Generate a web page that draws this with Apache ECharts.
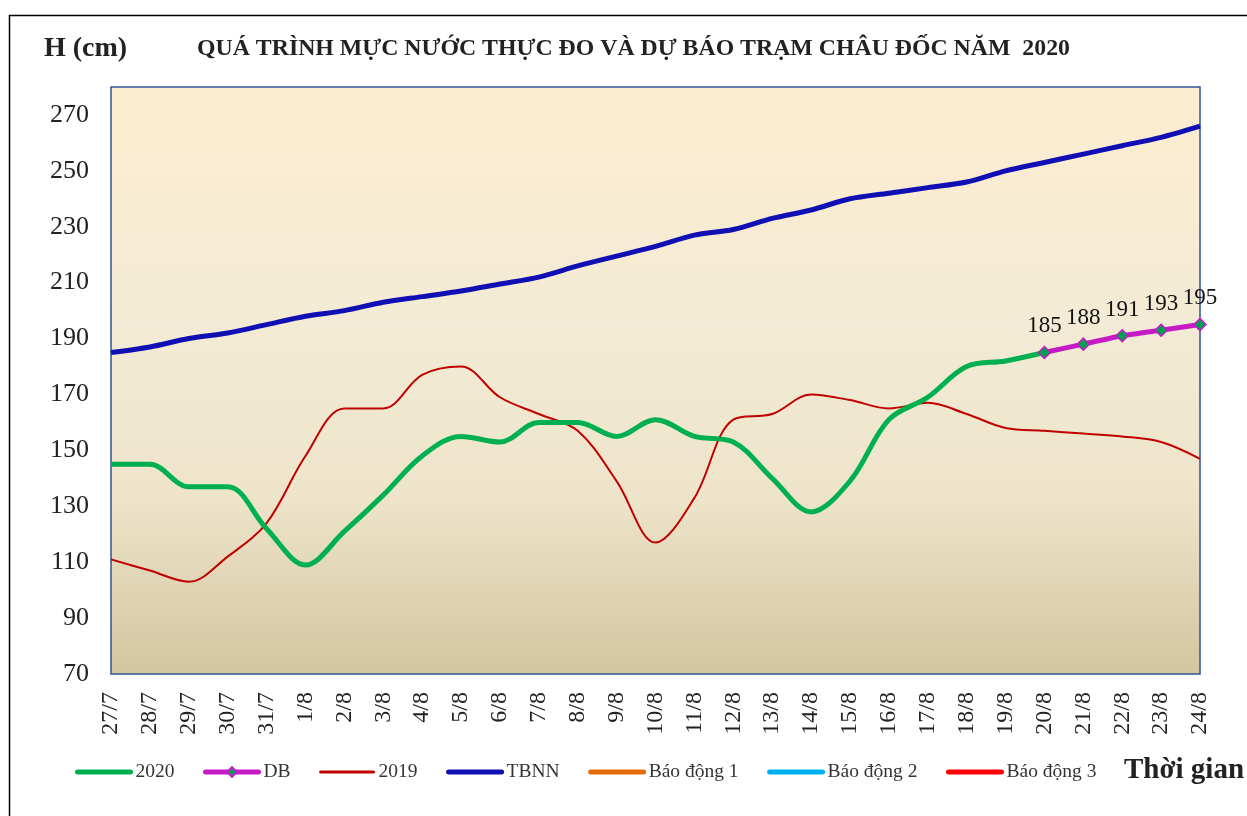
<!DOCTYPE html>
<html>
<head>
<meta charset="utf-8">
<script src="https://cdn.jsdelivr.net/npm/echarts@6/dist/echarts.min.js"></script>
<style>
    html, body { margin: 0; padding: 0; background: #fff; }
    #container { width: 1247px; height: 816px; }
</style>
</head>
<body>
<div id="container"></div>
<script>
// ngày quan trắc
var days = ['27/7', '28/7', '29/7', '30/7', '31/7', '1/8', '2/8', '3/8', '4/8', '5/8',
    '6/8', '7/8', '8/8', '9/8', '10/8', '11/8', '12/8', '13/8', '14/8', '15/8',
    '16/8', '17/8', '18/8', '19/8', '20/8', '21/8', '22/8', '23/8', '24/8'];

// mực nước thực đo 2020 (đến 20/8)
var h2020 = [145, 145, 137, 137, 122, 109, 121, 134, 148, 155,
    153, 160, 160, 155, 161, 155, 153, 140, 128, 139,
    161, 169, 180, 182, 185];

// dự báo 20/8 - 24/8
var dbDays = ['20/8', '21/8', '22/8', '23/8', '24/8'];
var dbValues = [185, 188, 191, 193, 195];

// cùng kỳ 2019
var h2019 = [111, 107, 103, 112, 124, 148, 165, 165, 177, 180,
    169, 163, 157, 139, 117, 133, 161, 163, 170, 168,
    165, 167, 163, 158, 157, 156, 155, 153, 147];

// trung bình nhiều năm
var tbnn = [185, 187, 190, 192, 195, 198, 200, 203, 205, 207,
    209.5, 212, 216, 219.5, 223, 227, 229, 233, 236, 240,
    242, 244, 246, 250, 253, 256, 259, 262, 266];

var yTicks = [70, 90, 110, 130, 150, 170, 190, 210, 230, 250, 270];

var serif = '"Liberation Serif", "DejaVu Serif", serif';

function initChart(echarts) {
    var dbData = [];
    for (var i = 0; i < days.length; i++) {
        var k = dbDays.indexOf(days[i]);
        dbData.push(k >= 0 ? dbValues[k] : null);
    }

    // legend chỉ hiện đường, trừ DB có thêm hình thoi
    var noSym = {opacity: 0};
    var legendData = [
        {name: '2020', itemStyle: noSym},
        {name: 'DB'},
        {name: '2019', itemStyle: noSym, lineStyle: {width: 3}},
        {name: 'TBNN', itemStyle: noSym},
        {name: 'Báo động 1', itemStyle: noSym},
        {name: 'Báo động 2', itemStyle: noSym},
        {name: 'Báo động 3', itemStyle: noSym}
    ];

    var myChart = echarts.init(document.getElementById('container'));
    var option = {
        animation: false,
        backgroundColor: '#fff',
        title: [
            {
                text: 'H (cm)',
                left: 44, top: 35, padding: 0,
                textStyle: {fontFamily: serif, fontSize: 28, fontWeight: 'bold', color: '#222'}
            },
            {
                text: 'QUÁ TRÌNH MỰC NƯỚC THỰC ĐO VÀ DỰ BÁO TRẠM CHÂU ĐỐC NĂM  2020',
                left: 197, top: 37, padding: 0,
                textStyle: {fontFamily: serif, fontSize: 23.8, fontWeight: 'bold', color: '#222'}
            }
        ],
        graphic: [
            {
                type: 'rect', silent: true,
                shape: {x: 9.5, y: 15.5, width: 1400, height: 1000},
                style: {fill: null, stroke: '#000', lineWidth: 1.5}
            },
            {
                type: 'text', left: 1124, top: 756,
                style: {text: 'Thời gian', font: 'bold 29px ' + serif, fill: '#222'}
            }
        ],
        legend: {
            left: 75, top: 762, padding: 0,
            itemWidth: 53, itemHeight: 12, itemGap: 28.5,
            lineStyle: {width: 5, cap: 'round'},
            textStyle: {fontFamily: serif, fontSize: 19.5, color: '#333'},
            data: legendData
        },
        grid: {
            left: 111, right: 47, top: 87, bottom: 142,
            show: true,
            borderColor: '#2f5496', borderWidth: 1.5,
            backgroundColor: new echarts.graphic.LinearGradient(0, 0, 0, 1, [
                {offset: 0, color: '#fdedd0'},
                {offset: 0.4, color: '#f3ebd5'},
                {offset: 0.7, color: '#ede4ca'},
                {offset: 1, color: '#d3c5a0'}
            ])
        },
        xAxis: {
            type: 'category',
            boundaryGap: false,
            data: days,
            axisLine: {show: false},
            axisTick: {show: false},
            axisLabel: {rotate: 90, margin: 18, fontFamily: serif, fontSize: 24, color: '#222', interval: 0}
        },
        yAxis: {
            type: 'value',
            min: 70, max: 280, interval: 20,
            splitLine: {show: false},
            axisLine: {show: false},
            axisTick: {show: false},
            axisLabel: {
                margin: 22, fontFamily: serif, fontSize: 26, color: '#222',
                formatter: function (v) { return yTicks.indexOf(v) >= 0 ? v : ''; }
            }
        },
        series: [
            {
                name: '2020', type: 'line', data: h2020, smooth: 0.35,
                symbol: 'none', z: 4,
                lineStyle: {color: '#00b050', width: 5},
                itemStyle: {color: '#00b050'}
            },
            {
                name: 'DB', type: 'line', data: dbData, smooth: 0.2,
                symbol: 'diamond', symbolSize: 12, showAllSymbol: true, z: 6,
                lineStyle: {color: '#c61ac6', width: 5},
                itemStyle: {color: '#00a050', borderColor: '#c61ac6', borderWidth: 1.5},
                label: {
                    show: true, position: 'top', distance: 8,
                    fontFamily: serif, fontSize: 23, color: '#111'
                }
            },
            {
                name: '2019', type: 'line', data: h2019, smooth: 0.35,
                symbol: 'none', z: 3,
                lineStyle: {color: '#c00000', width: 2},
                itemStyle: {color: '#c00000'}
            },
            {
                name: 'TBNN', type: 'line', data: tbnn, smooth: 0.3,
                symbol: 'none', z: 5,
                lineStyle: {color: '#0f0fb4', width: 5},
                itemStyle: {color: '#0f0fb4'}
            },
            {
                name: 'Báo động 1', type: 'line', data: [], symbol: 'none',
                lineStyle: {color: '#e36c09', width: 5}, itemStyle: {color: '#e36c09'}
            },
            {
                name: 'Báo động 2', type: 'line', data: [], symbol: 'none',
                lineStyle: {color: '#00b0f0', width: 5}, itemStyle: {color: '#00b0f0'}
            },
            {
                name: 'Báo động 3', type: 'line', data: [], symbol: 'none',
                lineStyle: {color: '#ff0000', width: 5}, itemStyle: {color: '#ff0000'}
            }
        ]
    };

    myChart.setOption(option);
}

initChart(echarts);
</script>
</body>
</html>
